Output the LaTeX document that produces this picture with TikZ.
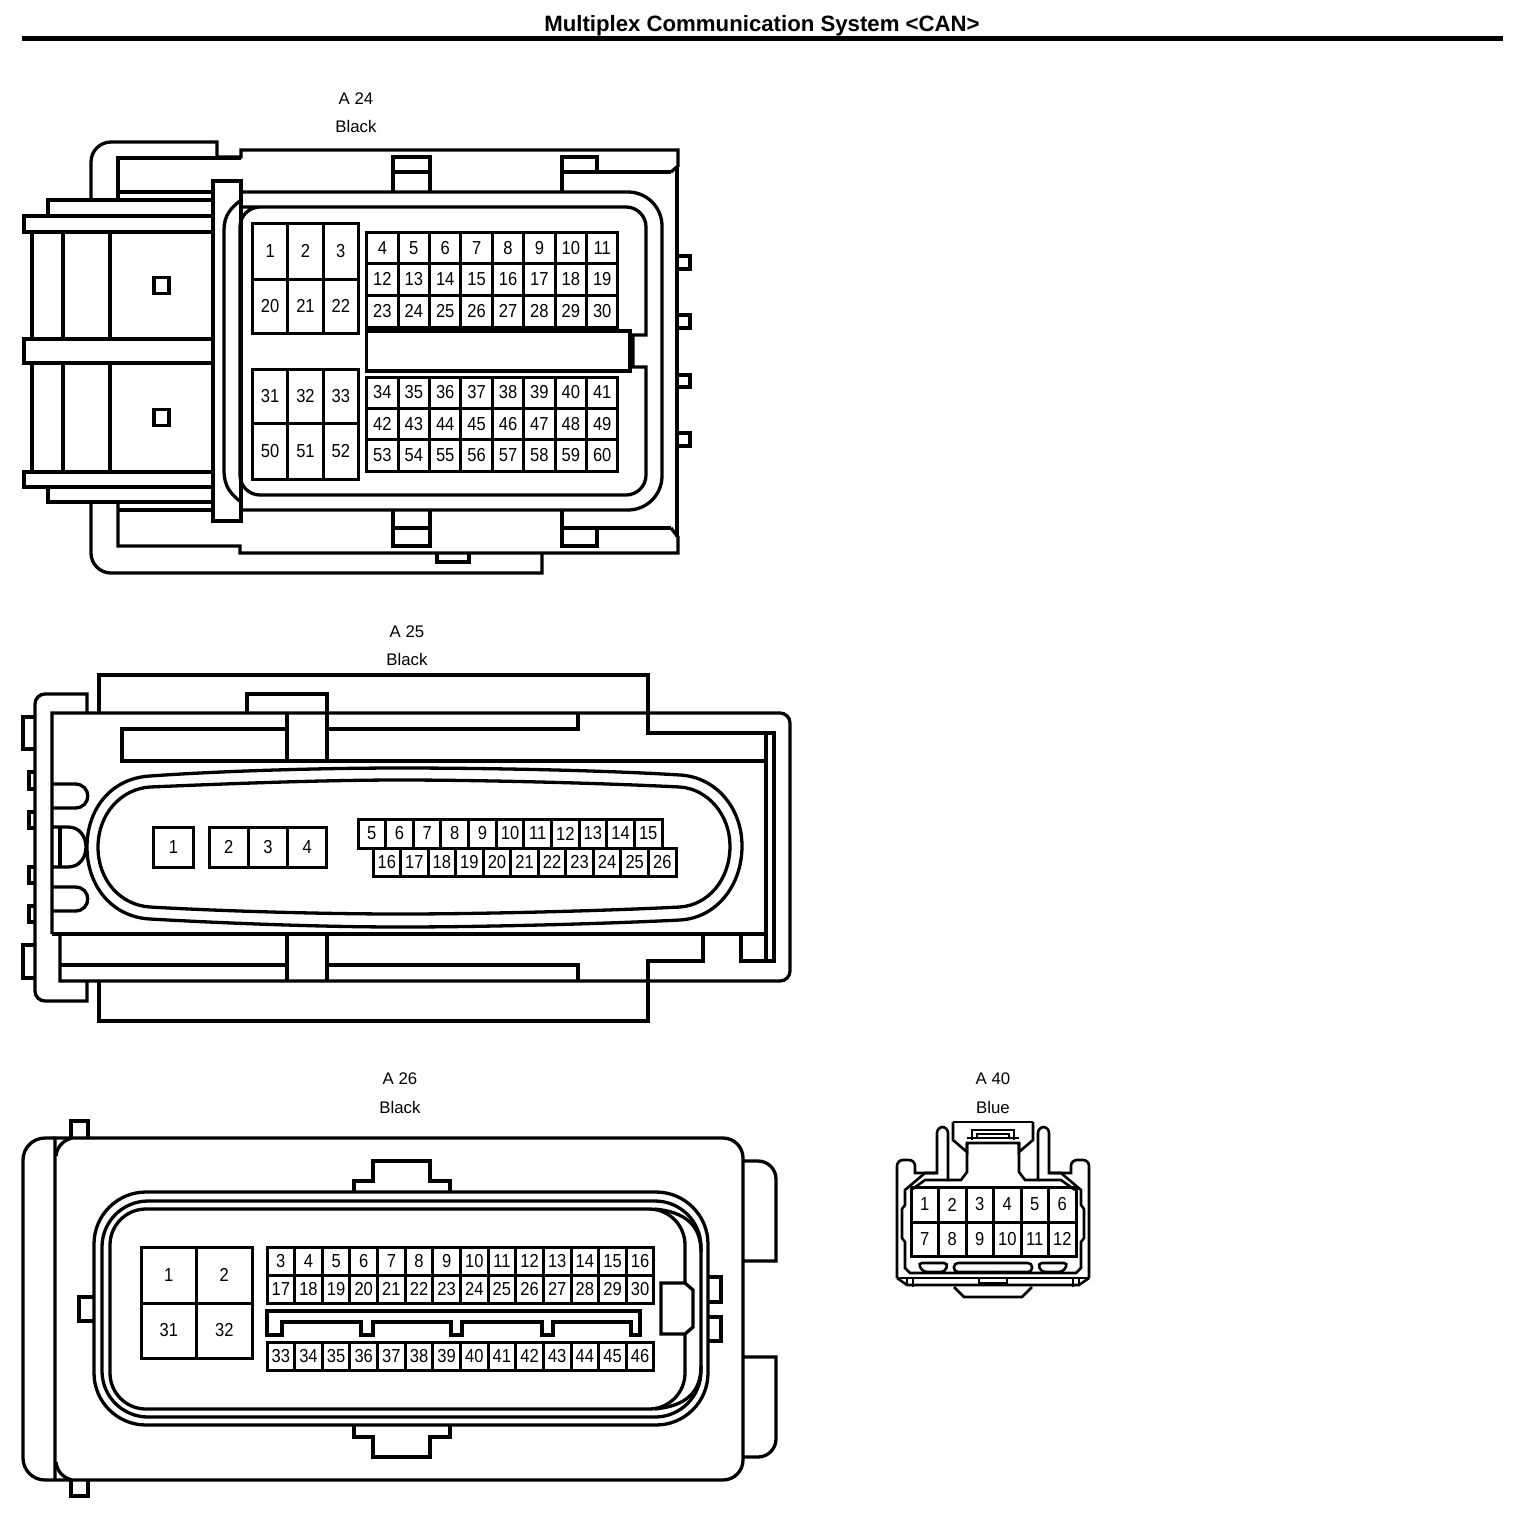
\documentclass[tikz,border=0pt]{standalone}
\usepackage{fontspec}
\setmainfont{Liberation Sans}
\newfontfamily\pinfont[FakeStretch=0.88]{Liberation Sans}

\tikzset{
  housing/.style={line width=1.65pt,line join=miter},
  fineline/.style={line width=1.3pt},
  pincell/.style={draw,line width=1.5pt,inner sep=0pt,font=\pinfont\fontsize{9.4}{10}\selectfont},
  tag/.style={font=\fontsize{8.4}{10}\selectfont}
}

\newcommand{\pinrow}[7]{
  \foreach \n in {#2,...,#3}{
    \pgfmathsetmacro\cx{#4+(\n-#2+.5)*#6}
    \pgfmathsetmacro\cy{#5+.5*#7}
    \node[pincell,minimum width=#6*.5pt,minimum height=#7*.5pt] (#1\n) at (\cx,\cy) {\n};
  }
}

\begin{document}
\begin{tikzpicture}[x=.5pt,y=-.5pt]
  \useasboundingbox (0,0) rectangle (1536,1526);

  \node[font=\bfseries\fontsize{11.1}{13}\selectfont] (title) at (762,26) {Multiplex Communication System <CAN>};
  \draw[line width=2.2pt] (22,38.5) -- (1503,38.5);

  \node[tag] (nameA) at (356,99) {A 24};
  \node[tag] (colorA) at (356,126) {Black};
  \node[tag] (nameB) at (407,632) {A 25};
  \node[tag] (colorB) at (407,659) {Black};
  \node[tag] (nameC) at (400,1079) {A 26};
  \node[tag] (colorC) at (400,1107) {Black};
  \node[tag] (nameD) at (993,1079) {A 40};
  \node[tag] (colorD) at (993,1107) {Blue};


  \draw[housing,rounded corners=10pt] (91,200) -- (91,142) [sharp corners] -- (217,142) -- (217,157) -- (241,157) -- (241,150) -- (678,150) -- (678,166) -- (671,172);
  \draw[housing] (118,200) -- (118,158) -- (241,158);
  \draw[housing] (118,192) -- (213,192);
  \draw[housing] (48,216) -- (48,200) -- (213,200);
  \draw[housing] (24,216) rectangle (213,232);
  \draw[housing] (24,339) rectangle (213,363);
  \draw[housing] (24,472) rectangle (213,487);
  \draw[housing] (48,487) -- (48,502) -- (213,502);
  \draw[housing] (118,510) -- (213,510);
  \foreach \vx in {32,63,110}{
    \draw[housing] (\vx,232) -- (\vx,339);
    \draw[housing] (\vx,363) -- (\vx,472);
  }
  \draw[housing] (154,277.5) rectangle (169,293.5);
  \draw[housing] (154,409.5) rectangle (169,425.5);
  \draw[housing,rounded corners=10pt] (91,502) -- (91,573) [sharp corners] -- (542,573) -- (542,553);
  \draw[housing] (118,502) -- (118,546) -- (240,546) -- (240,553) -- (678,553) -- (678,537) -- (671,528);
  \draw[housing] (213,181) rectangle (241,521);
  \draw[housing] (241,200) .. controls (231,208) and (224,215) .. (224,230) -- (224,470) .. controls (224,487) and (231,494) .. (241,502);
  \draw[housing,rounded corners=17pt] (241,192) -- (662,192) -- (662,510) -- (241,510);
  \draw[housing,rounded corners=10pt] (241,207) -- (646,207) [sharp corners] -- (646,335) -- (633,335) -- (633,367) -- (646,367) [rounded corners=10pt] -- (646,495) -- (240,495) -- (240,207) -- (250,207);
  \draw[housing] (677,166) -- (677,537);
  \draw[housing] (393,192) -- (393,157) -- (430,157) -- (430,192);
  \draw[housing] (393,172) -- (430,172);
  \draw[housing] (562,192) -- (562,157) -- (597,157) -- (597,172);
  \draw[housing] (562,172) -- (671,172);
  \draw[housing] (393,510) -- (393,546) -- (430,546) -- (430,510);
  \draw[housing] (393,528) -- (430,528);
  \draw[housing] (562,510) -- (562,546) -- (597,546) -- (597,528);
  \draw[housing] (562,528) -- (671,528);
  \draw[housing] (437,553) -- (437,562) -- (469,562) -- (469,553);
  \foreach \ty/\by in {256/269,315/328,375/387,433/446}{
    \draw[housing] (677,\ty) -- (690,\ty) -- (690,\by) -- (677,\by);
  }
  \draw[housing] (366.7,331) rectangle (630,371);

  \pinrow{a}{1}{3}{252.5}{223}{35.3}{56}
  \pinrow{a}{20}{22}{252.5}{279}{35.3}{54}
  \pinrow{a}{31}{33}{252.5}{369}{35.3}{54}
  \pinrow{a}{50}{52}{252.5}{423}{35.3}{56}
  \pinrow{a}{4}{11}{366.7}{232}{31.4}{31.5}
  \pinrow{a}{12}{19}{366.7}{263.5}{31.4}{31.5}
  \pinrow{a}{23}{30}{366.7}{295}{31.4}{32}
  \pinrow{a}{34}{41}{366.7}{377}{31.4}{31}
  \pinrow{a}{42}{49}{366.7}{408}{31.4}{31.5}
  \pinrow{a}{53}{60}{366.7}{439.5}{31.4}{31.5}


  \draw[housing] (99,713) -- (99,675) -- (648,675) -- (648,733) -- (774,733) -- (774,961) -- (741,961) -- (741,934);
  \draw[housing] (766,733) -- (766,961);
  \draw[housing] (703,934) -- (703,961) -- (648,961) -- (648,1021) -- (99,1021) -- (99,982);
  \draw[housing] (52,934) -- (52,713) [rounded corners=5pt] -- (790,713) -- (790,981) [sharp corners] -- (60,981) -- (60,934);
  \draw[housing] (52,934) -- (766,934);
  \draw[housing] (87,713) -- (87,694) [rounded corners=5pt] -- (35,694) -- (35,1001) [sharp corners] -- (87,1001) -- (87,981);
  \draw[housing] (35,717) -- (23,717) -- (23,749) -- (35,749);
  \draw[housing] (35,945) -- (23,945) -- (23,978) -- (35,978);
  \foreach \ty/\by in {772/789,812/828,867/883,906/922}{
    \draw[housing] (35,\ty) -- (29,\ty) -- (29,\by) -- (35,\by);
  }
  \draw[housing] (247,713) -- (247,694) -- (327,694) -- (327,761);
  \draw[housing] (287,713) -- (287,761);
  \draw[housing] (287,934) -- (287,981);
  \draw[housing] (327,934) -- (327,981);
  \draw[housing] (287,729) -- (122,729) -- (122,761) -- (766,761);
  \draw[housing] (327,729) -- (578,729) -- (578,713);
  \draw[housing] (60,965) -- (287,965);
  \draw[housing] (327,965) -- (578,965) -- (578,981);

  \draw[housing] (52,784) -- (75,784) .. controls (92,784) and (92,808) .. (75,808) -- (52,808);
  \draw[housing] (52,827) -- (68,827) .. controls (92,827) and (92,867) .. (68,867) -- (52,867);
  \draw[housing] (60,827) -- (60,867);
  \draw[housing] (52,887) -- (75,887) .. controls (92,887) and (92,911) .. (75,911) -- (52,911);

  \draw[housing] (150,776) .. controls (220,771) and (320,768) .. (400,768) .. controls (480,768) and (600,770) .. (680,775)
    .. controls (716,777) and (742,808) .. (742,846) .. controls (742,886) and (716,918) .. (680,920)
    .. controls (600,924) and (480,927) .. (400,927) .. controls (320,927) and (220,923) .. (150,919)
    .. controls (112,917) and (87,886) .. (87,847) .. controls (87,808) and (112,778) .. cycle;
  \draw[housing] (150,787) .. controls (220,784) and (320,780) .. (400,780) .. controls (480,780) and (600,783) .. (680,787)
    .. controls (708,789) and (730,815) .. (730,846) .. controls (730,880) and (708,905) .. (680,907)
    .. controls (600,911) and (480,914) .. (400,914) .. controls (320,914) and (220,911) .. (150,907)
    .. controls (120,905) and (98,880) .. (98,847) .. controls (98,815) and (120,789) .. cycle;

  \pinrow{b}{1}{1}{153.5}{827}{40}{40}
  \pinrow{b}{2}{4}{209}{827}{39.3}{40}
  \pinrow{b}{5}{15}{358}{819}{27.64}{29}
  \pinrow{b}{16}{26}{373}{848}{27.55}{28}


  \draw[housing,rounded corners=10pt] (55,1480) [sharp corners] -- (55,1138) [rounded corners=10pt] -- (743,1138) -- (743,1480) -- (55,1480);
  \draw[housing,rounded corners=11pt] (55,1138) -- (23,1138) -- (23,1480) -- (55,1480);
  \draw[housing] (72,1138) .. controls (64,1140) and (57,1146) .. (56,1156);
  \draw[housing] (72,1480) .. controls (64,1478) and (57,1472) .. (56,1462);
  \draw[housing] (71,1138) -- (71,1121) -- (88,1121) -- (88,1138);
  \draw[housing] (71,1480) -- (71,1496) -- (88,1496) -- (88,1480);
  \draw[housing] (93,1297) -- (79,1297) -- (79,1321) -- (93,1321);
  \draw[housing] (354,1192) -- (354,1181) -- (373,1181) -- (373,1161) -- (430,1161) -- (430,1181) -- (450,1181) -- (450,1192);
  \draw[housing] (354,1425) -- (354,1437) -- (373,1437) -- (373,1457) -- (430,1457) -- (430,1437) -- (450,1437) -- (450,1425);
  \draw[housing,rounded corners=26pt] (94,1192) rectangle (708,1425);
  \draw[housing,rounded corners=23pt] (102,1201) rectangle (701,1417);
  \draw[housing,rounded corners=18pt] (685,1283) -- (685,1209) -- (110,1209) -- (110,1409) -- (685,1409) -- (685,1334);
  \draw[housing] (655,1209) .. controls (685,1212) and (701,1225) .. (701,1252);
  \draw[housing] (655,1409) .. controls (685,1406) and (701,1393) .. (701,1366);
  \draw[housing] (661,1283) -- (685,1283) -- (693,1290) -- (693,1327) -- (685,1334) -- (661,1334) -- cycle;
  \draw[housing] (708,1277) -- (721,1277) -- (721,1302) -- (708,1302);
  \draw[housing] (708,1317) -- (721,1317) -- (721,1341) -- (708,1341);
  \draw[housing,rounded corners=9pt] (743,1161) -- (776,1161) [sharp corners] -- (776,1261) -- (743,1261);
  \draw[housing] (743,1357) -- (776,1357) [rounded corners=9pt] -- (776,1457) -- (743,1457);
  \draw[housing] (267,1311) -- (640,1311) -- (640,1335) -- (631,1335) -- (631,1322) -- (553,1322) -- (553,1335) -- (542,1335) -- (542,1322)
    -- (462,1322) -- (462,1335) -- (451,1335) -- (451,1322) -- (373,1322) -- (373,1335) -- (361,1335) -- (361,1322) -- (282,1322) -- (282,1335) -- (267,1335) -- cycle;

  \pinrow{c}{1}{2}{141}{1247}{55.5}{56}
  \pinrow{c}{31}{32}{141}{1303}{55.5}{55}
  \pinrow{c}{3}{16}{267}{1247}{27.64}{28}
  \pinrow{c}{17}{30}{267}{1275}{27.64}{28}
  \pinrow{c}{33}{46}{267}{1342}{27.64}{28}


  \foreach \m in {1,-1}{
    \begin{scope}[shift={(993,0)},xscale=\m]
      \draw[fineline,rounded corners=3pt] (-96,1278) -- (-96,1160) -- (-78,1160) [sharp corners] -- (-78,1173) -- (-56,1173) [rounded corners=3pt] -- (-56,1127) -- (-45,1127) [sharp corners] -- (-45,1180) -- (-32,1180) -- (-26,1172) -- (-26,1143);
      \draw[fineline] (-40,1122) -- (0,1122);
      \draw[fineline] (-40,1122) -- (-40,1140) -- (-26,1152) -- (-26,1143) -- (0,1143);
      \draw[fineline] (-26,1138) -- (0,1138);
      \draw[fineline] (-21,1140) -- (-21,1130) -- (0,1130);
      \draw[fineline] (-16,1138) -- (-16,1134) -- (0,1134);
      \draw[fineline] (-56,1173) -- (-68,1173) -- (-88,1190) -- (-88,1205) -- (-91,1209) -- (-91,1238) -- (-88,1242) -- (-88,1268) -- (-83,1273) -- (0,1273);
      \draw[fineline] (-45,1180) -- (-68,1180) -- (-82,1190);
      \draw[fineline,rounded corners=2pt] (-75,1263) -- (-45,1263) -- (-48,1272) -- (-70,1272) -- cycle;
      \draw[fineline] (-96,1278) -- (0,1278);
      \draw[fineline] (-96,1278) -- (-86,1285) -- (0,1285);
      \draw[fineline] (-86,1278) -- (-86,1285);
      \draw[fineline] (-80,1278) -- (-80,1287);
      \draw[fineline] (-39,1287) -- (-29,1297) -- (0,1297);
      \draw[fineline] (-14,1278) -- (-14,1283) -- (0,1283);
      \draw[fineline,rounded corners=2pt] (0,1263) -- (-39,1263) -- (-39,1272) -- (0,1272);
    \end{scope}
  }

  \pinrow{d}{1}{6}{911}{1187}{27.5}{35}
  \pinrow{d}{7}{12}{911}{1222}{27.5}{34}

\end{tikzpicture}
\end{document}
